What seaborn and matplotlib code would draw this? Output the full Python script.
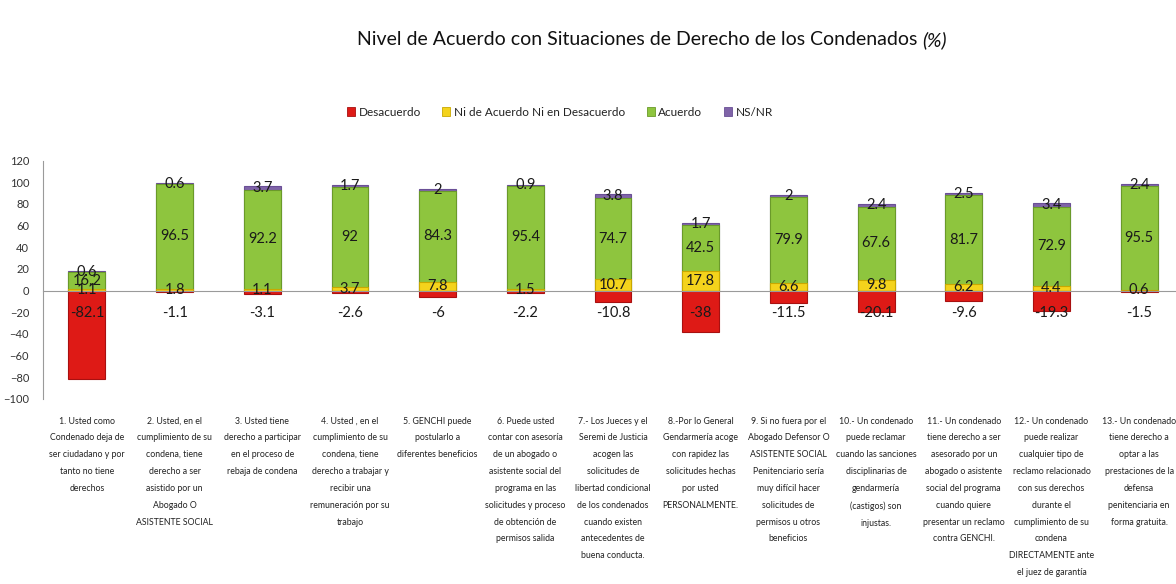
import numpy as np
import pandas as pd
import seaborn as sns
import matplotlib.pyplot as plt
from matplotlib.patches import Patch

titulo = 'Nivel de Acuerdo con Situaciones de Derecho de los Condenados'

preguntas = [
    '1. Usted como\nCondenado deja de\nser ciudadano y por\ntanto no tiene\nderechos',
    '2. Usted, en el\ncumplimiento de su\ncondena, tiene\nderecho a ser\nasistido por un\nAbogado O\nASISTENTE SOCIAL',
    '3. Usted tiene\nderecho a participar\nen el proceso de\nrebaja de condena',
    '4. Usted , en el\ncumplimiento de su\ncondena, tiene\nderecho a trabajar y\nrecibir una\nremuneración por su\ntrabajo',
    '5. GENCHI puede\npostularlo a\ndiferentes beneficios',
    '6. Puede usted\ncontar con asesoría\nde un abogado o\nasistente social del\nprograma en las\nsolicitudes y proceso\nde obtención de\npermisos salida',
    '7.- Los Jueces y el\nSeremi de Justicia\nacogen las\nsolicitudes de\nlibertad condicional\nde los condenados\ncuando existen\nantecedentes de\nbuena conducta.',
    '8.-Por lo General\nGendarmería acoge\ncon rapidez las\nsolicitudes hechas\npor usted\nPERSONALMENTE.',
    '9. Si no fuera por el\nAbogado Defensor O\nASISTENTE SOCIAL\nPenitenciario sería\nmuy difícil hacer\nsolicitudes de\npermisos u otros\nbeneficios',
    '10.- Un condenado\npuede reclamar\ncuando las sanciones\ndisciplinarias de\ngendarmería\n(castigos) son\ninjustas.',
    '11.- Un condenado\ntiene derecho a ser\nasesorado por un\nabogado o asistente\nsocial del programa\ncuando quiere\npresentar un reclamo\ncontra GENCHI.',
    '12.- Un condenado\npuede realizar\ncualquier tipo de\nreclamo relacionado\ncon sus derechos\ndurante el\ncumplimiento de su\ncondena\nDIRECTAMENTE ante\nel juez de garantía',
    '13.- Un condenado\ntiene derecho a\noptar a las\nprestaciones de la\ndefensa\npenitenciaria en\nforma gratuita.',
]

desacuerdo = [-82.1, -1.1, -3.1, -2.6, -6, -2.2, -10.8, -38, -11.5, -20.1, -9.6, -19.3, -1.5]
ni_ni = [1.1, 1.8, 1.1, 3.7, 7.8, 1.5, 10.7, 17.8, 6.6, 9.8, 6.2, 4.4, 0.6]
acuerdo = [16.2, 96.5, 92.2, 92, 84.3, 95.4, 74.7, 42.5, 79.9, 67.6, 81.7, 72.9, 95.5]
ns_nr = [0.6, 0.6, 3.7, 1.7, 2, 0.9, 3.8, 1.7, 2, 2.4, 2.5, 3.4, 2.4]

series = ['Desacuerdo', 'Ni de Acuerdo Ni en Desacuerdo', 'Acuerdo', 'NS/NR']
colores = ['#DE1A16', '#F4D31C', '#8EC53E', '#8064A8']
bordes = ['#A81010', '#C9A800', '#6A9A2A', '#6A4F96']


def fmt(v):
    return ('%g' % v)


def main():
    sns.set_style('white')
    plt.rcParams['font.family'] = ['Lato', 'DejaVu Sans']

    df = pd.DataFrame({'q': [str(i + 1) for i in range(len(preguntas))],
                       'desacuerdo': desacuerdo, 'ni': ni_ni,
                       'acuerdo': acuerdo, 'ns': ns_nr})
    df['hasta_acuerdo'] = df['ni'] + df['acuerdo']
    df['total'] = df['hasta_acuerdo'] + df['ns']

    fig = plt.figure(figsize=(11.76, 5.84), dpi=100)
    ax = fig.add_axes([0.0366, 0.317, 0.9634, 0.408])

    # stacked look: draw cumulative bars from the tallest down
    capas = [('total', 3), ('hasta_acuerdo', 2), ('ni', 1), ('desacuerdo', 0)]
    for col, k in capas:
        sns.barplot(data=df, x='q', y=col, color=colores[k], edgecolor=bordes[k],
                    linewidth=0.8, width=0.42, saturation=1, errorbar=None, ax=ax)

    ax.set_ylim(-100, 120)
    ax.set_xlim(-0.5, 12.42)
    ax.set_yticks(np.arange(-100, 121, 20))
    ax.set_xlabel('')
    ax.set_ylabel('')

    # value labels
    for i in range(len(df)):
        ax.text(i, -21, fmt(desacuerdo[i]), ha='center', va='center', fontsize=10.5, color='#1a1a1a')
        ax.text(i, ni_ni[i] / 2, fmt(ni_ni[i]), ha='center', va='center', fontsize=10.5, color='#1a1a1a')
        ax.text(i, ni_ni[i] + acuerdo[i] / 2, fmt(acuerdo[i]), ha='center', va='center', fontsize=10.5, color='#1a1a1a')
        ax.text(i, df['total'][i] - ns_nr[i] / 2, fmt(ns_nr[i]), ha='center', va='center', fontsize=10.5, color='#1a1a1a')

    # axis styling, excel-like
    for s in ['top', 'right']:
        ax.spines[s].set_visible(False)
    ax.spines['bottom'].set_position(('data', 0))
    ax.spines['bottom'].set_color('#9a9a9a')
    ax.spines['left'].set_color('#9a9a9a')
    ax.set_xticks(np.arange(0.5, 12.5, 1), minor=True)
    ax.tick_params(axis='x', which='major', length=0, labelbottom=False)
    ax.tick_params(axis='x', which='minor', length=4, color='#9a9a9a', direction='out')
    ax.tick_params(axis='y', length=4, color='#9a9a9a', direction='out', labelsize=8, labelcolor='#333333', pad=6)

    trans = ax.get_xaxis_transform()
    for i, txt in enumerate(preguntas):
        ax.text(i, -0.074, txt, transform=trans, ha='center', va='top', fontsize=6.3,
                linespacing=2.12, color='#222222')

    # title with italic (%)
    fig.text(0.780, 0.932, titulo, ha='right', va='center', fontsize=14, color='#111111')
    fig.text(0.784, 0.932, '(%)', ha='left', va='center', fontsize=14, color='#111111', style='italic')

    handles = [Patch(facecolor=c, edgecolor=b, linewidth=0.6) for c, b in zip(colores, bordes)]
    fig.legend(handles, series, loc='center', bbox_to_anchor=(0.476, 0.808), ncol=4, frameon=False,
               fontsize=8.5, handlelength=0.7, handleheight=0.7, handletextpad=0.3, columnspacing=1.8,
               labelcolor='#222222')

    fig.savefig('out.png', dpi=100)


if __name__ == "__main__":
    main()
